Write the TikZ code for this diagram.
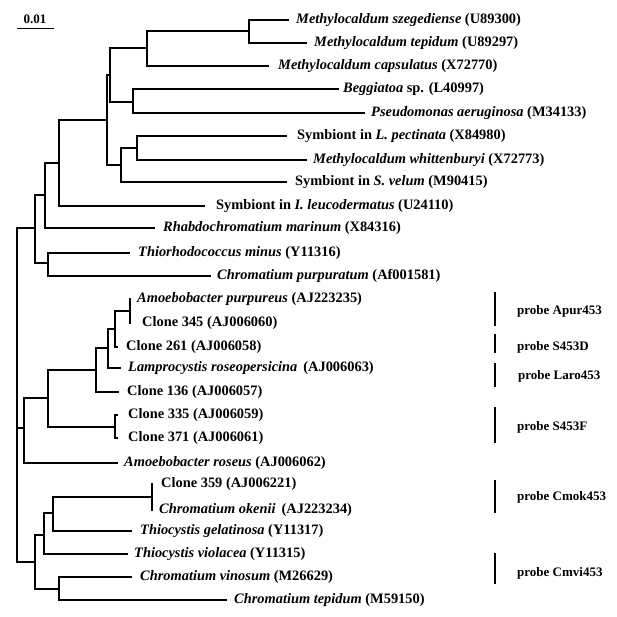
\documentclass[tikz,border=0pt]{standalone}
\usepackage{fontspec}
\setmainfont{Liberation Serif}
\begin{document}
\begin{tikzpicture}[x=1pt,y=-1pt,
  br/.style={line width=1.9pt,line join=miter},
  lab/.style={anchor=west,inner sep=0pt,font=\fontsize{14.4}{16}\selectfont\bfseries},
  plab/.style={anchor=west,inner sep=0pt,font=\fontsize{13}{15}\selectfont\bfseries},
  probebar/.style={line width=2.8pt},
  scalelab/.style={inner sep=0pt,font=\fontsize{13}{14}\selectfont\bfseries}]
\useasboundingbox (0,0) rectangle (616,617);
\newcommand{\leaf}[5]{\coordinate (#1-e) at (#2,#3); \node[lab] (#1) at (#4,#3) {#5};}
% scale bar
\node[scalelab] (sc) at (35,19) {0.01};
\coordinate (sb1) at (17,28.5); \coordinate (sb2) at (54,28.5);
\draw[br] (sb1) -- (sb2);
% leaves
\leaf{szeg}{289}{20}{296}{\textit{Methylocaldum szegediense} (U89300)}
\leaf{mtep}{307}{43}{314}{\textit{Methylocaldum tepidum} (U89297)}
\leaf{caps}{269}{66}{278}{\textit{Methylocaldum capsulatus} (X72770)}
\leaf{begg}{339}{89}{343}{\textit{Beggiatoa} sp. (L40997)}
\leaf{pseu}{365}{113}{371}{\textit{Pseudomonas aeruginosa} (M34133)}
\leaf{pect}{287}{136}{297}{Symbiont in \textit{L. pectinata} (X84980)}
\leaf{whit}{307}{160}{313}{\textit{Methylocaldum whittenburyi} (X72773)}
\leaf{velu}{287}{182}{295}{Symbiont in \textit{S. velum} (M90415)}
\leaf{leuc}{205}{206}{216}{Symbiont in \textit{I. leucodermatus} (U24110)}
\leaf{rhab}{155}{228}{163}{\textit{Rhabdochromatium marinum} (X84316)}
\leaf{thio}{130}{253}{138}{\textit{Thiorhodococcus minus} (Y11316)}
\leaf{purp}{211}{276}{217}{\textit{Chromatium purpuratum} (Af001581)}
\leaf{apur}{131}{299}{137}{\textit{Amoebobacter purpureus} (AJ223235)}
\leaf{c345}{131}{323}{142}{Clone 345 (AJ006060)}
\leaf{c261}{118}{347}{126}{Clone 261 (AJ006058)}
\leaf{lamp}{121}{368}{128}{\textit{Lamprocystis roseopersicina}\, (AJ006063)}
\leaf{c136}{119}{392}{127}{Clone 136 (AJ006057)}
\leaf{c335}{118}{415}{128}{Clone 335 (AJ006059)}
\leaf{c371}{118}{438}{128}{Clone 371 (AJ006061)}
\leaf{rose}{118}{463}{124}{\textit{Amoebobacter roseus} (AJ006062)}
\leaf{c359}{153}{484}{161}{Clone 359 (AJ006221)}
\leaf{oken}{153}{510}{159}{\textit{Chromatium okenii}\, (AJ223234)}
\leaf{gela}{132}{531}{140}{\textit{Thiocystis gelatinosa} (Y11317)}
\leaf{viol}{128}{554}{134}{\textit{Thiocystis violacea} (Y11315)}
\leaf{vino}{132}{577}{140}{\textit{Chromatium vinosum} (M26629)}
\leaf{ctep}{227}{600}{234}{\textit{Chromatium tepidum} (M59150)}
% internal nodes
\coordinate (n1) at (249,31);
\coordinate (n2) at (147,48);
\coordinate (n3) at (133,102);
\coordinate (nB) at (110,75);
\coordinate (nD) at (137,148);
\coordinate (nE) at (121,165);
\coordinate (nC) at (107,120);
\coordinate (nF) at (59,163);
\coordinate (nG) at (45,195);
\coordinate (nI) at (48,263);
\coordinate (nH) at (35,228);
\coordinate (root) at (17,428);
\coordinate (p1) at (130,311);
\coordinate (p2) at (115,329);
\coordinate (p3) at (108,348);
\coordinate (p4) at (96,370);
\coordinate (p5) at (115,427);
\coordinate (p6) at (48,398);
\coordinate (n24) at (24,428);
\coordinate (q1) at (152,497);
\coordinate (q2) at (53,513);
\coordinate (q3) at (44,535);
\coordinate (q4) at (59,589);
\coordinate (n35) at (35,562);
% branches
\draw[br] (n1) |- (szeg-e); \draw[br] (n1) |- (mtep-e);
\draw[br] (n2) |- (n1); \draw[br] (n2) |- (caps-e);
\draw[br] (n3) |- (begg-e); \draw[br] (n3) |- (pseu-e);
\draw[br] (nB) |- (n2); \draw[br] (nB) |- (n3);
\draw[br] (nD) |- (pect-e); \draw[br] (nD) |- (whit-e);
\draw[br] (nE) |- (nD); \draw[br] (nE) |- (velu-e);
\draw[br] (nC) |- (nB); \draw[br] (nC) |- (nE);
\draw[br] (nF) |- (nC); \draw[br] (nF) |- (leuc-e);
\draw[br] (nG) |- (nF); \draw[br] (nG) |- (rhab-e);
\draw[br] (nI) |- (thio-e); \draw[br] (nI) |- (purp-e);
\draw[br] (nH) |- (nG); \draw[br] (nH) |- (nI);
\draw[br] (p1) |- (apur-e); \draw[br] (p1) |- (c345-e);
\draw[br] (p2) |- (p1); \draw[br] (p2) |- (c261-e);
\draw[br] (p3) |- (p2); \draw[br] (p3) |- (lamp-e);
\draw[br] (p4) |- (p3); \draw[br] (p4) |- (c136-e);
\draw[br] (p5) |- (c335-e); \draw[br] (p5) |- (c371-e);
\draw[br] (p6) |- (p4); \draw[br] (p6) |- (p5);
\draw[br] (n24) |- (p6); \draw[br] (n24) |- (rose-e);
\draw[br] (q1) |- (c359-e); \draw[br] (q1) |- (oken-e);
\draw[br] (q2) |- (q1); \draw[br] (q2) |- (gela-e);
\draw[br] (q3) |- (q2); \draw[br] (q3) |- (viol-e);
\draw[br] (q4) |- (vino-e); \draw[br] (q4) |- (ctep-e);
\draw[br] (n35) |- (q3); \draw[br] (n35) |- (q4);
\draw[br] (root) |- (nH); \draw[br] (root) |- (n24); \draw[br] (root) |- (n35);
% probes
\draw[probebar] (495,292) -- (495,326); \node[plab] (pr1) at (517,311) {probe Apur453};
\draw[probebar] (495,334) -- (495,353); \node[plab] (pr2) at (517,347) {probe S453D};
\draw[probebar] (495,363) -- (495,387); \node[plab] (pr3) at (518,376) {probe Laro453};
\draw[probebar] (495,407) -- (495,443); \node[plab] (pr4) at (517,427) {probe S453F};
\draw[probebar] (495,480) -- (495,513); \node[plab] (pr5) at (517,497) {probe Cmok453};
\draw[probebar] (495,553) -- (495,584); \node[plab] (pr6) at (517,573) {probe Cmvi453};
\end{tikzpicture}
\end{document}
